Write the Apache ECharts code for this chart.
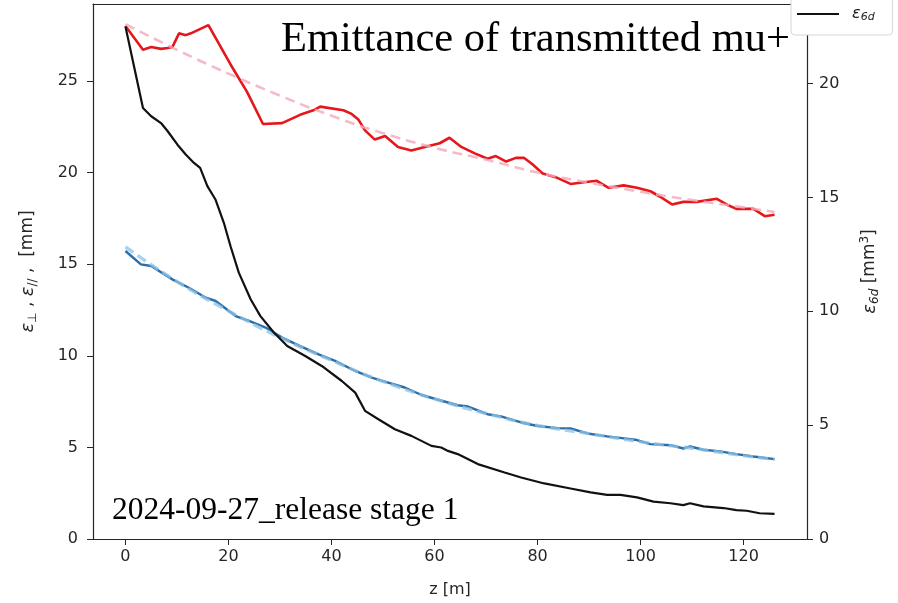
<!DOCTYPE html>
<html>
<head>
<meta charset="utf-8">
<script src="https://cdn.jsdelivr.net/npm/echarts@6/dist/echarts.min.js"></script>
<style>
html,body{margin:0;padding:0;background:#fff;}
#chart{width:898px;height:603px;}
</style>
</head>
<body>
<div id="chart"></div>
<script>
// ---- data ----
const xTicks = [0, 20, 40, 60, 80, 100, 120];
const leftTicks = [0, 5, 10, 15, 20, 25];
const rightTicks = [0, 5, 10, 15, 20];

// eps_parallel (red)
const redZ = [0, 3.4, 5, 6.9, 8.2, 9.1, 10.4, 11.7, 12.7, 16.1, 17.2, 20.4, 23.6, 26.7, 30.4, 33.9, 36.5, 37.8, 42.3, 43.9, 45.2, 46.5, 48.4, 50.4, 52.9, 55.5, 58.1, 61, 62.9, 65.2, 67.8, 70.3, 71.9, 73.9, 75.8, 77.4, 79, 81, 83.5, 86.4, 89, 91.5, 93.8, 96.7, 99.3, 101.9, 103.8, 106.1, 108.3, 110.9, 114.8, 116.7, 118.6, 121.9, 124.1, 126];
const redV = [28.0, 26.7, 26.85, 26.75, 26.8, 26.85, 27.6, 27.5, 27.6, 28.05, 27.5, 25.9, 24.4, 22.65, 22.7, 23.15, 23.4, 23.6, 23.4, 23.2, 22.9, 22.3, 21.8, 22.0, 21.4, 21.2, 21.4, 21.6, 21.9, 21.4, 21.05, 20.75, 20.9, 20.6, 20.8, 20.8, 20.45, 19.95, 19.75, 19.38, 19.47, 19.55, 19.17, 19.3, 19.17, 18.98, 18.68, 18.26, 18.4, 18.4, 18.57, 18.26, 18.02, 18.02, 17.62, 17.7];

// fit of eps_parallel (pink dashed)
const redFitZ = [0, 10, 20, 30, 40, 50, 60, 70, 80, 90, 100, 110, 120, 126];
const redFitV = [28.1, 26.7, 25.4, 24.2, 23.1, 22.15, 21.35, 20.7, 20.0, 19.45, 18.95, 18.5, 18.1, 17.85];

// eps_perp (blue)
const blueZ = [0, 3.0, 5, 9.1, 12.4, 15.6, 17.5, 21.4, 24, 27.2, 30.4, 33.6, 37.5, 40.7, 44.6, 47.8, 51, 54.2, 57.5, 60.7, 64.5, 66.5, 70.3, 72.9, 76.8, 80, 83.9, 86.4, 89.7, 93.5, 96.8, 99.3, 101.9, 105.8, 108.3, 109.6, 112.2, 115.4, 118.6, 121.9, 126];
const blueV = [15.72, 14.99, 14.9, 14.17, 13.7, 13.17, 12.99, 12.17, 11.9, 11.54, 10.99, 10.57, 10.08, 9.72, 9.17, 8.81, 8.54, 8.27, 7.86, 7.6, 7.3, 7.23, 6.81, 6.69, 6.36, 6.17, 6.05, 6.03, 5.76, 5.6, 5.49, 5.4, 5.18, 5.12, 4.94, 5.05, 4.87, 4.78, 4.63, 4.5, 4.36];

// fit of eps_perp (light blue dashed)
const blueFitZ = [0, 10, 20, 30, 40, 50, 60, 70, 80, 90, 100, 110, 120, 126];
const blueFitV = [15.95, 14.05, 12.45, 11.0, 9.75, 8.6, 7.65, 6.85, 6.2, 5.75, 5.3, 4.95, 4.55, 4.35];

// eps_6d (black, right axis)
const blackZ = [0, 3.4, 5, 6.9, 8.2, 10.1, 11.7, 13.3, 14.5, 15.9, 17.5, 19.1, 20.4, 22, 24.3, 26.2, 28.8, 31.4, 34.9, 38.1, 42, 44.6, 46.5, 49.1, 52.3, 55.5, 59.4, 61.3, 62.6, 64.5, 68.4, 73.6, 76.8, 81.3, 86.4, 90.3, 93.5, 96.1, 99.3, 102.5, 105.8, 108.3, 109.6, 112.2, 116.1, 118.6, 120.6, 123.1, 126];
const blackV = [22.51, 18.93, 18.57, 18.27, 17.91, 17.32, 16.89, 16.52, 16.3, 15.5, 14.9, 13.89, 12.86, 11.7, 10.53, 9.79, 9.07, 8.48, 8.04, 7.6, 6.94, 6.43, 5.63, 5.26, 4.82, 4.53, 4.09, 4.02, 3.87, 3.73, 3.29, 2.92, 2.7, 2.44, 2.22, 2.05, 1.94, 1.94, 1.83, 1.64, 1.57, 1.49, 1.57, 1.43, 1.36, 1.27, 1.24, 1.13, 1.1];

const titleText = 'Emittance of transmitted mu+';
const noteText = '2024-09-27_release stage 1';

// ---- chart ----
const pairs = (zs, vs) => zs.map((z, i) => [z, vs[i]]);
const axisColor = '#262626';
const labelStyle = {fontFamily: 'DejaVu Sans', fontSize: 16, color: axisColor};

const chart = echarts.init(document.getElementById('chart'), null, {renderer: 'canvas'});
chart.setOption({
  animation: false,
  backgroundColor: '#fff',
  grid: {left: 93, right: 91, top: 4, bottom: 63},
  legend: {
    data: [{name: 'eps6d', icon: 'rect'}],
    left: 791, top: -4,
    itemWidth: 42, itemHeight: 2,
    itemGap: 10,
    padding: [10, 18, 12, 6],
    borderColor: '#d6d6d6', borderWidth: 1, borderRadius: 4,
    backgroundColor: '#fff',
    formatter: () => '{e|ε}{s|6d}',
    textStyle: {
      padding: [0, 0, 0, 8],
      rich: {
        e: {fontFamily: 'DejaVu Sans', fontStyle: 'italic', fontSize: 16, color: '#222', lineHeight: 18},
        s: {fontFamily: 'DejaVu Sans', fontStyle: 'italic', fontSize: 11, color: '#222', verticalAlign: 'bottom', lineHeight: 18, padding: [6, 0, 0, 0]}
      }
    }
  },
  xAxis: [{
    type: 'value', min: -6.3, max: 132.3,
    name: 'z [m]', nameLocation: 'middle', nameGap: 43,
    nameTextStyle: {fontFamily: 'DejaVu Sans', fontSize: 16, color: axisColor},
    axisLine: {show: true, lineStyle: {color: axisColor, width: 1.2}},
    axisTick: {show: true, length: 6, lineStyle: {color: axisColor}, customValues: xTicks},
    axisLabel: Object.assign({margin: 10, customValues: xTicks}, labelStyle),
    splitLine: {show: false}
  }, {
    type: 'value', position: 'top', min: -6.3, max: 132.3,
    axisLine: {show: true, onZero: false, lineStyle: {color: axisColor, width: 1.2}},
    axisTick: {show: false}, axisLabel: {show: false}, splitLine: {show: false}
  }],
  yAxis: [{
    type: 'value', min: 0, max: 29.2, position: 'left',
    name: '{e|ε}{s|⊥}{t| , }{e|ε}{s|//}{t| ,  [mm]}',
    nameLocation: 'middle', nameGap: 54, nameRotate: 90,
    nameTextStyle: {
      rich: {
        e: {fontFamily: 'DejaVu Sans', fontStyle: 'italic', fontSize: 18, color: axisColor, lineHeight: 22},
        s: {fontFamily: 'DejaVu Sans', fontSize: 12, color: axisColor, verticalAlign: 'bottom', lineHeight: 22, padding: [8, 0, 0, 0]},
        t: {fontFamily: 'DejaVu Sans', fontSize: 17, color: axisColor, lineHeight: 22}
      }
    },
    axisLine: {show: true, onZero: false, lineStyle: {color: axisColor, width: 1.2}},
    axisTick: {show: true, length: 6, lineStyle: {color: axisColor}, customValues: leftTicks},
    axisLabel: Object.assign({margin: 15, customValues: leftTicks}, labelStyle),
    splitLine: {show: false}
  }, {
    type: 'value', min: 0, max: 23.5, position: 'right',
    name: '{e|ε}{s|6d}{t| [mm}{p|3}{t|]}',
    nameLocation: 'middle', nameGap: 52, nameRotate: 90,
    nameTextStyle: {
      rich: {
        e: {fontFamily: 'DejaVu Sans', fontStyle: 'italic', fontSize: 18, color: axisColor, lineHeight: 22},
        s: {fontFamily: 'DejaVu Sans', fontStyle: 'italic', fontSize: 12, color: axisColor, verticalAlign: 'bottom', lineHeight: 22, padding: [8, 0, 0, 0]},
        p: {fontFamily: 'DejaVu Sans', fontSize: 12, color: axisColor, verticalAlign: 'top', lineHeight: 22, padding: [0, 0, 8, 0]},
        t: {fontFamily: 'DejaVu Sans', fontSize: 17, color: axisColor, lineHeight: 22}
      }
    },
    axisLine: {show: true, onZero: false, lineStyle: {color: axisColor, width: 1.2}},
    axisTick: {show: true, length: 6, lineStyle: {color: axisColor}, customValues: rightTicks},
    axisLabel: Object.assign({margin: 12, customValues: rightTicks}, labelStyle),
    splitLine: {show: false}
  }],
  series: [
    {
      name: 'eps_par', type: 'line', yAxisIndex: 0, data: pairs(redZ, redV),
      symbol: 'none', lineStyle: {color: '#e5171c', width: 2.6}, z: 3
    },
    {
      name: 'eps_par_fit', type: 'line', yAxisIndex: 0, data: pairs(redFitZ, redFitV), smooth: true,
      symbol: 'none', lineStyle: {color: '#f2a9b6', width: 2.6, type: [10, 6], opacity: 0.8}, z: 4
    },
    {
      name: 'eps_perp', type: 'line', yAxisIndex: 0, data: pairs(blueZ, blueV),
      symbol: 'none', lineStyle: {color: '#2c6ea8', width: 2.4}, z: 3
    },
    {
      name: 'eps_perp_fit', type: 'line', yAxisIndex: 0, data: pairs(blueFitZ, blueFitV), smooth: true,
      symbol: 'none', lineStyle: {color: '#8cc3e6', width: 3.4, type: [10, 5], opacity: 0.75}, z: 4
    },
    {
      name: 'eps6d', type: 'line', yAxisIndex: 1, data: pairs(blackZ, blackV),
      symbol: 'none', color: '#111', lineStyle: {color: '#111', width: 2.2}, z: 5
    }
  ],
  graphic: [
    {type: 'text', right: 108, top: 18, z: 10,
     style: {text: titleText, font: '42.5px "Liberation Serif"', fill: '#000'}},
    {type: 'text', left: 112, top: 495, z: 10,
     style: {text: noteText, font: '31.5px "Liberation Serif"', fill: '#000'}}
  ]
});
</script>
</body>
</html>
